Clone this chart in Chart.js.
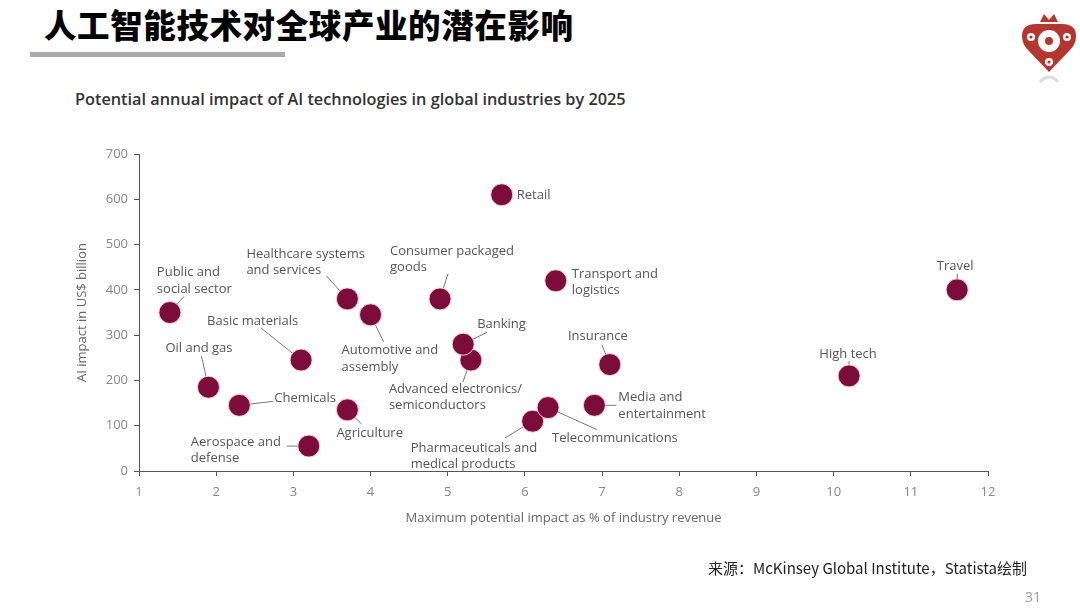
<!DOCTYPE html>
<html>
<head>
<meta charset="utf-8">
<script src="https://cdn.jsdelivr.net/npm/chart.js@4.4.1/dist/chart.umd.min.js"></script>
<style>
  html, body { margin: 0; padding: 0; background: #fff; }
  body { width: 1080px; height: 608px; position: relative; overflow: hidden; font-family: "Open Sans", sans-serif; }
  #page-title { position: absolute; left: 44px; top: 0px; font-family: "Noto Sans CJK SC"; font-weight: 900; font-size: 32.5px; color: #000; letter-spacing: 0.6px; white-space: nowrap; }
  #title-bar { position: absolute; left: 30px; top: 52px; width: 255px; height: 5px; background: #a9a9a9; }
  #sub-title { position: absolute; left: 75px; top: 88px; font-size: 16.3px; font-weight: 600; color: #333; white-space: nowrap; }
  #source { position: absolute; left: 708px; top: 557px; font-family: "Noto Sans CJK SC"; font-size: 15px; color: #222; white-space: nowrap; }
  #page-no { position: absolute; left: 1025px; top: 587px; font-size: 14px; color: #999; }
  #logo { position: absolute; left: 1018px; top: 2px; }
  #wrap { position: absolute; left: 0; top: 0; width: 1080px; height: 608px; }
</style>
</head>
<body>
<div id="page-title">人工智能技术对全球产业的潜在影响</div>
<div id="title-bar"></div>
<svg id="logo" width="62" height="84" viewBox="0 0 62 84">
  <path d="M22 20 L26 12 L31 18 L36 12 L40 20 Z" fill="#b4372f"/>
  <path d="M4 34 Q4 22 18 22 L44 22 Q58 22 58 34 Q58 42 52 48 L31 70 L10 48 Q4 42 4 34 Z" fill="#b4372f"/>
  <circle cx="31" cy="39" r="11" fill="#fff"/>
  <circle cx="31" cy="39" r="4" fill="#b4372f"/>
  <circle cx="13" cy="35" r="4" fill="#fff"/><circle cx="13" cy="35" r="1.6" fill="#b4372f"/>
  <circle cx="49" cy="35" r="4" fill="#fff"/><circle cx="49" cy="35" r="1.6" fill="#b4372f"/>
  <circle cx="31" cy="60" r="4" fill="#fff"/><circle cx="31" cy="60" r="1.6" fill="#b4372f"/>
  <path d="M22 80 Q31 70 40 80" stroke="#ddd" stroke-width="3" fill="none"/>
</svg>
<div id="sub-title">Potential annual impact of AI technologies in global industries by 2025</div>
<div id="wrap"><canvas id="impactChart" width="1080" height="608"></canvas></div>
<div id="source">来源：McKinsey Global Institute，Statista绘制</div>
<div id="page-no">31</div>

<script>
// industries (line breaks as in the chart labels)
const industries = [
    'Retail',
    'Public and\nsocial sector',
    'Healthcare systems\nand services',
    'Automotive and\nassembly',
    'Consumer packaged\ngoods',
    'Transport and\nlogistics',
    'Travel',
    'Basic materials',
    'Advanced electronics/\nsemiconductors',
    'Banking',
    'Insurance',
    'High tech',
    'Oil and gas',
    'Chemicals',
    'Agriculture',
    'Aerospace and\ndefense',
    'Pharmaceuticals and\nmedical products',
    'Telecommunications',
    'Media and\nentertainment'
];
// maximum potential impact as % of industry revenue
const revenueImpact = [5.7, 1.4, 3.7, 4.0, 4.9, 6.4, 11.6, 3.1, 5.3, 5.2, 7.1, 10.2, 1.9, 2.3, 3.7, 3.2, 6.1, 6.3, 6.9];
// AI impact in US$ billion
const aiImpact = [610, 350, 380, 345, 380, 420, 400, 245, 245, 280, 235, 210, 185, 145, 135, 55, 110, 140, 145];

const xTicks = [1, 2, 3, 4, 5, 6, 7, 8, 9, 10, 11, 12];
const yTicks = [0, 100, 200, 300, 400, 500, 600, 700];

// label placement relative to each bubble (px): text offset, alignment, leader line end
const labelLayout = [
    { dx: 15, dy: 1, align: 'left' },
    { dx: -13, dy: -40, align: 'left', lx: 14, ly: -16 },
    { dx: -101, dy: -45, align: 'left', lx: -21, ly: -23 },
    { dx: -29, dy: 36, align: 'left', lx: 13, ly: 27 },
    { dx: -50, dy: -48, align: 'left', lx: 8, ly: -25 },
    { dx: 16, dy: -7, align: 'left' },
    { dx: -2, dy: -24, align: 'center', lx: 0, ly: -16 },
    { dx: -94, dy: -39, align: 'left', lx: -40, ly: -32 },
    { dx: -82, dy: 29, align: 'left', lx: -8, ly: 22 },
    { dx: 14, dy: -20, align: 'left', lx: 24, ly: -12 },
    { dx: -12, dy: -28, align: 'center', lx: -8, ly: -20 },
    { dx: -1, dy: -22, align: 'center', lx: 0, ly: -15 },
    { dx: -43, dy: -39, align: 'left', lx: -7, ly: -31 },
    { dx: 35, dy: -7, align: 'left', lx: 34, ly: -4 },
    { dx: -11, dy: 23, align: 'left', lx: 14, ly: 14 },
    { dx: -118, dy: -4, align: 'left', lx: -22, ly: 0 },
    { dx: -122, dy: 27, align: 'left', lx: -28, ly: 17 },
    { dx: 4, dy: 31, align: 'left', lx: 49, ly: 22 },
    { dx: 24, dy: -8, align: 'left', lx: 22, ly: 0 }
];

const points = industries.map((name, i) => ({ x: revenueImpact[i], y: aiImpact[i] }));

// leader lines under the bubbles, labels on top
const bubbleLabels = {
    id: 'bubbleLabels',
    beforeDatasetsDraw(chart) {
        const ctx = chart.ctx;
        const meta = chart.getDatasetMeta(0);
        ctx.save();
        ctx.strokeStyle = '#777';
        ctx.lineWidth = 1;
        meta.data.forEach((pt, i) => {
            const l = labelLayout[i];
            if (l.lx === undefined) return;
            ctx.beginPath();
            ctx.moveTo(pt.x, pt.y);
            ctx.lineTo(pt.x + l.lx, pt.y + l.ly);
            ctx.stroke();
        });
        ctx.restore();
    },
    afterDatasetsDraw(chart) {
        const ctx = chart.ctx;
        const meta = chart.getDatasetMeta(0);
        ctx.save();
        ctx.font = '13px "Open Sans"';
        ctx.fillStyle = '#555';
        ctx.textBaseline = 'middle';
        meta.data.forEach((pt, i) => {
            const l = labelLayout[i];
            ctx.textAlign = l.align;
            industries[i].split('\n').forEach((line, k) => {
                ctx.fillText(line, pt.x + l.dx, pt.y + l.dy + k * 16.5);
            });
        });
        ctx.restore();
    }
};

const ctx = document.getElementById('impactChart').getContext('2d');
new Chart(ctx, {
    type: 'scatter',
    data: {
        datasets: [{
            data: points,
            backgroundColor: '#7c0d3b',
            borderColor: 'rgba(255, 215, 225, 0.9)',
            borderWidth: 1,
            pointRadius: 11,
            pointHoverRadius: 11,
            clip: false
        }]
    },
    options: {
        responsive: false,
        animation: false,
        layout: { padding: { left: 70, top: 154, right: 92, bottom: 80 } },
        scales: {
            x: {
                type: 'linear',
                min: xTicks[0],
                max: xTicks[xTicks.length - 1],
                afterBuildTicks: axis => { axis.ticks = xTicks.map(v => ({ value: v })); },
                afterFit: axis => { axis.height = 57; },
                grid: { drawOnChartArea: false, tickLength: 5, color: '#555' },
                border: { color: '#555', width: 1 },
                ticks: { color: '#888', font: { family: 'Open Sans', size: 13 }, padding: 8 },
                title: { display: true, text: 'Maximum potential impact as % of industry revenue', color: '#666', font: { family: 'Open Sans', size: 13 }, padding: { top: 4, bottom: 2 } }
            },
            y: {
                type: 'linear',
                min: yTicks[0],
                max: yTicks[yTicks.length - 1],
                afterBuildTicks: axis => { axis.ticks = yTicks.map(v => ({ value: v })); },
                afterFit: axis => { axis.width = 69; },
                grid: { drawOnChartArea: false, tickLength: 5, color: '#555' },
                border: { color: '#555', width: 1 },
                ticks: { color: '#888', font: { family: 'Open Sans', size: 13 }, padding: 6 },
                title: { display: true, text: 'AI impact in US$ billion', color: '#666', font: { family: 'Open Sans', size: 13 } }
            }
        },
        plugins: {
            legend: { display: false },
            tooltip: { enabled: false }
        }
    },
    plugins: [bubbleLabels]
});
</script>
</body>
</html>
